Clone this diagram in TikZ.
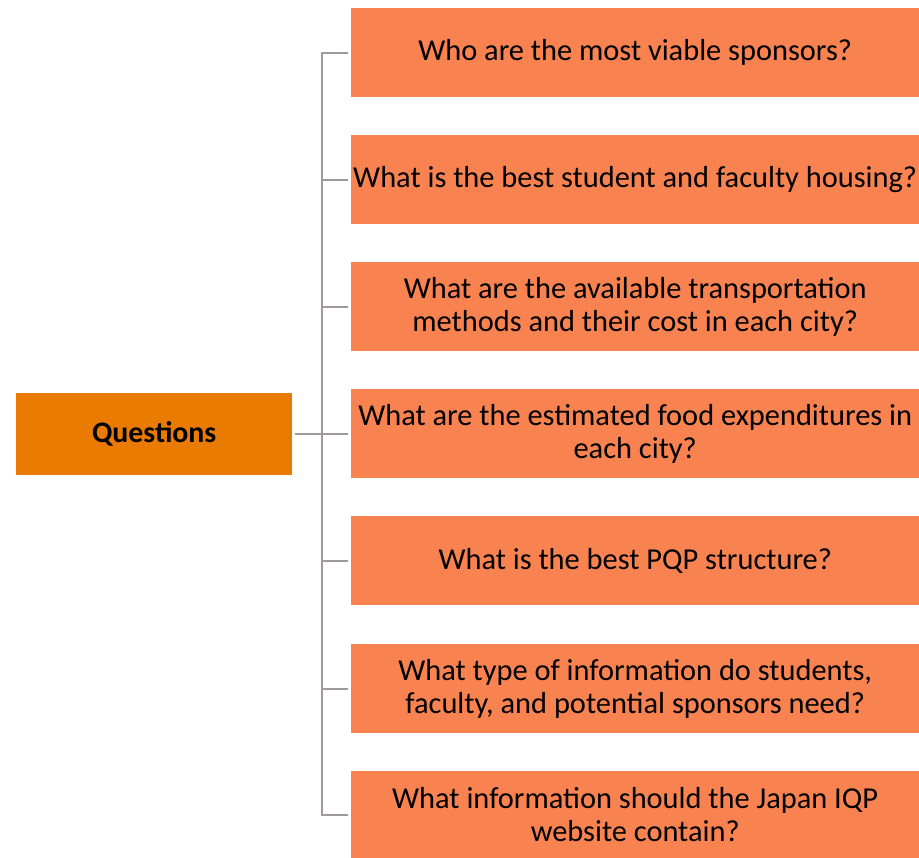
\documentclass[tikz,border=0pt]{standalone}
\usepackage{fontspec}
\setmainfont{Carlito}
\definecolor{qbox}{RGB}{248,130,80}
\definecolor{rootbox}{RGB}{233,124,0}
\definecolor{conn}{RGB}{160,152,152}
\begin{document}
\begin{tikzpicture}[x=1pt,y=-1pt,
  qnode/.style={draw=none,fill=qbox,minimum width=568pt,minimum height=89pt,inner sep=0pt,
    align=center,font=\fontsize{30.4}{33}\selectfont,anchor=north west},
  rnode/.style={draw=none,fill=rootbox,minimum width=276pt,minimum height=82pt,inner sep=0pt,
    font=\fontsize{29.8}{33}\selectfont\bfseries,anchor=north west},
  link/.style={draw=conn,line width=2.2pt}]
\useasboundingbox (0,0) rectangle (919,858);
\node[rnode] (root) at (16,393) {Questions};
\node[qnode] (q1) at (351,8) {Who are the most viable sponsors?};
\node[qnode] (q2) at (351,135) {What is the best student and faculty housing?};
\node[qnode] (q3) at (351,262) {What are the available transportation\\methods and their cost in each city?};
\node[qnode] (q4) at (351,389) {What are the estimated food expenditures in\\each city?};
\node[qnode] (q5) at (351,516) {What is the best PQP structure?};
\node[qnode] (q6) at (351,644) {What type of information do students,\\faculty, and potential sponsors need?};
\node[qnode,minimum height=87pt] (q7) at (351,771) {What information should the Japan IQP\\website contain?};
\coordinate (bus) at (322,0);
\draw[link] ([xshift=3pt]root.east) -- (bus |- root.east);
\draw[link] ([xshift=-3pt]q1.west) -- (bus |- q1.west) -- (bus |- q7.west) -- ([xshift=-3pt]q7.west);
\foreach \q in {q2,q3,q4,q5,q6}
  \draw[link] ([xshift=-3pt]\q.west) -- (bus |- \q.west);
\end{tikzpicture}
\end{document}
